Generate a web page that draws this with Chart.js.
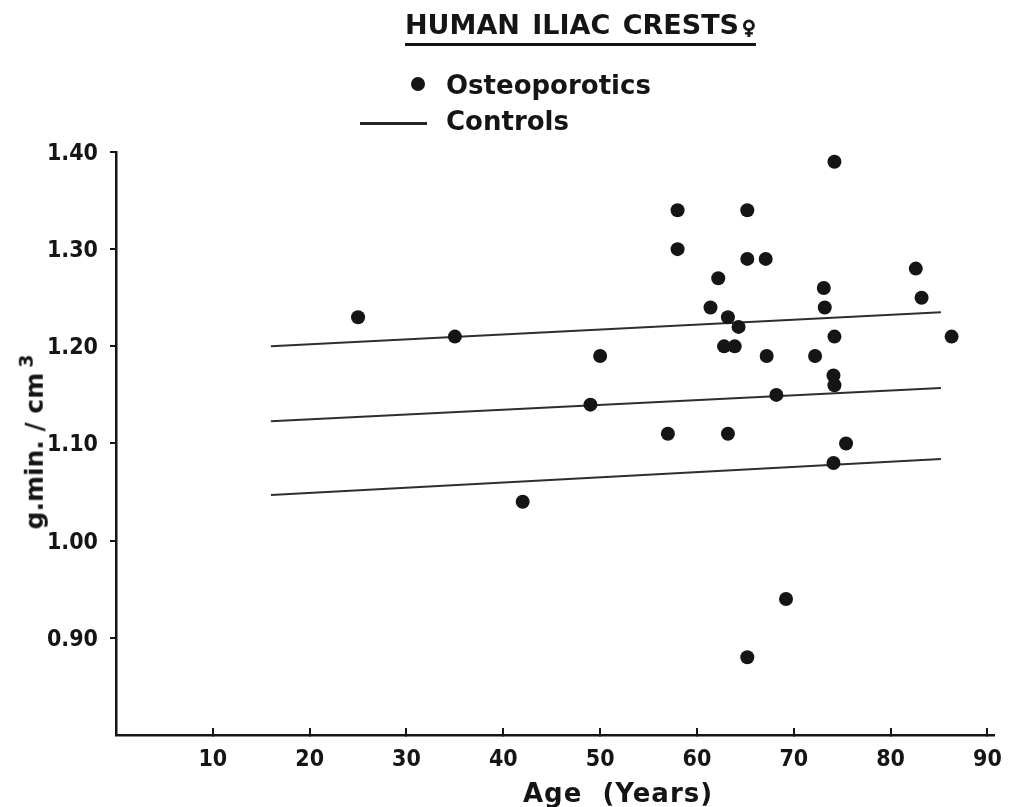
<!DOCTYPE html>
<html>
<head>
<meta charset="utf-8">
<script src="https://cdn.jsdelivr.net/npm/chart.js@4.4.0/dist/chart.umd.min.js"></script>
<style>
  body { margin: 0; background: #fff; }
  #wrap { position: relative; width: 1020px; height: 807px; overflow: hidden; }
  #plot { position: absolute; left: 0; top: 0; }
  .txt {
    position: absolute;
    font-family: 'DejaVu Sans', sans-serif;
    font-weight: bold;
    color: #151515;
    white-space: nowrap;
    line-height: 1;
  }
  #title { left: 405px; top: 11px; font-size: 27px; padding-bottom: 5px; border-bottom: 3px solid #151515; word-spacing: 3px; }
  #title .sym { font-size: 19px; margin-left: 3px; -webkit-text-stroke: 1.2px #151515; }
  #lg-dot { position: absolute; left: 411px; top: 77px; width: 14px; height: 14px; border-radius: 50%; background: #151515; }
  #lg-line { position: absolute; left: 360px; top: 122px; width: 67px; height: 3px; background: #252525; }
  #lg-osteo { left: 446px; top: 72px; font-size: 26px; }
  #lg-ctrl { left: 446px; top: 108px; font-size: 26px; }
  #xtitle { left: 618px; top: 793px; font-size: 26px; letter-spacing: 1px; transform: translate(-50%, -50%); }
  #ytitle { left: 32px; top: 442px; font-size: 25px; transform: translate(-50%, -50%) rotate(-90deg); }
  #ytitle sup { font-size: 19px; vertical-align: 0.55em; margin-left: 5px; }
</style>
</head>
<body>
<div id="wrap">
  <canvas id="plot" width="1020" height="807"></canvas>
  <div class="txt" id="title">HUMAN ILIAC CRESTS<span class="sym">♀</span></div>
  <div id="lg-dot"></div>
  <div class="txt" id="lg-osteo">Osteoporotics</div>
  <div id="lg-line"></div>
  <div class="txt" id="lg-ctrl">Controls</div>
  <div class="txt" id="xtitle">Age &nbsp;(Years)</div>
  <div class="txt" id="ytitle">g.min. / cm<sup>3</sup></div>
</div>
<script>
// Osteoporotic patients: age (years) and density (g.min./cm3)
const osteoAge = [25, 35, 42, 49, 50, 57, 58, 58, 61.4, 62.2,
                  62.8, 63.2, 63.2, 63.9, 64.3, 65.2, 65.2, 65.2, 67.1, 67.2,
                  68.2, 69.2, 72.2, 73.1, 73.2, 74.2, 74.2, 74.1, 74.2, 74.1,
                  75.4, 82.6, 83.2, 86.3];
const osteoDensity = [1.23, 1.21, 1.04, 1.14, 1.19, 1.11, 1.34, 1.30, 1.24, 1.27,
                      1.20, 1.23, 1.11, 1.20, 1.22, 1.34, 1.29, 0.88, 1.29, 1.19,
                      1.15, 0.94, 1.19, 1.26, 1.24, 1.39, 1.21, 1.17, 1.16, 1.08,
                      1.10, 1.28, 1.25, 1.21];

// Controls: regression line with upper / lower band
const controlsAge = [16, 85.2];
const controlsUpper = [1.200, 1.235];
const controlsMean = [1.123, 1.157];
const controlsLower = [1.047, 1.084];

const xTicks = [10, 20, 30, 40, 50, 60, 70, 80, 90];
const xTickLabels = ['10', '20', '30', '40', '50', '60', '70', '80', '90'];
const yTicks = [0.9, 1.0, 1.1, 1.2, 1.3, 1.4];
const yTickLabels = ['0.90', '1.00', '1.10', '1.20', '1.30', '1.40'];

const ink = '#151515';
const tickFont = { family: "'DejaVu Sans Condensed', 'DejaVu Sans', sans-serif", size: 23, weight: 'bold' };

const toPoints = (xs, ys) => xs.map((x, i) => ({ x, y: ys[i] }));

function controlLine(values) {
  return {
    type: 'line',
    data: toPoints(controlsAge, values),
    borderColor: '#2e2e2e',
    borderWidth: 2,
    pointRadius: 0,
    fill: false,
    tension: 0
  };
}

new Chart(document.getElementById('plot').getContext('2d'), {
  type: 'scatter',
  data: {
    datasets: [
      {
        label: 'Osteoporotics',
        data: toPoints(osteoAge, osteoDensity),
        backgroundColor: ink,
        borderWidth: 0,
        pointRadius: 7,
        pointHoverRadius: 7
      },
      controlLine(controlsUpper),
      controlLine(controlsMean),
      controlLine(controlsLower)
    ]
  },
  options: {
    responsive: false,
    animation: false,
    events: [],
    layout: { padding: { left: 0, top: 152, right: 23, bottom: 0 }, autoPadding: false },
    plugins: { legend: { display: false }, tooltip: { enabled: false } },
    scales: {
      x: {
        type: 'linear',
        min: 0,
        max: 90.7,
        afterBuildTicks: (scale) => { scale.ticks = xTicks.map(v => ({ value: v })); },
        afterFit: (scale) => { scale.height = 72; },
        ticks: {
          color: ink,
          font: tickFont,
          padding: 18,
          maxRotation: 0,
          autoSkip: false,
          callback: (v, i) => xTickLabels[i]
        },
        grid: { display: true, drawOnChartArea: false, drawTicks: true, tickLength: -7, color: ink, lineWidth: 2 },
        border: { display: true, color: ink, width: 2.5 }
      },
      y: {
        type: 'linear',
        min: 0.8,
        max: 1.4,
        afterBuildTicks: (scale) => { scale.ticks = yTicks.map(v => ({ value: v })); },
        afterFit: (scale) => { scale.width = 116; },
        ticks: {
          color: ink,
          font: tickFont,
          padding: 12,
          labelOffset: 2,
          autoSkip: false,
          callback: (v, i) => yTickLabels[i]
        },
        grid: { display: true, drawOnChartArea: false, drawTicks: true, tickLength: 6, color: ink, lineWidth: 2 },
        border: { display: true, color: ink, width: 2.5 }
      }
    }
  }
});
</script>
</body>
</html>
